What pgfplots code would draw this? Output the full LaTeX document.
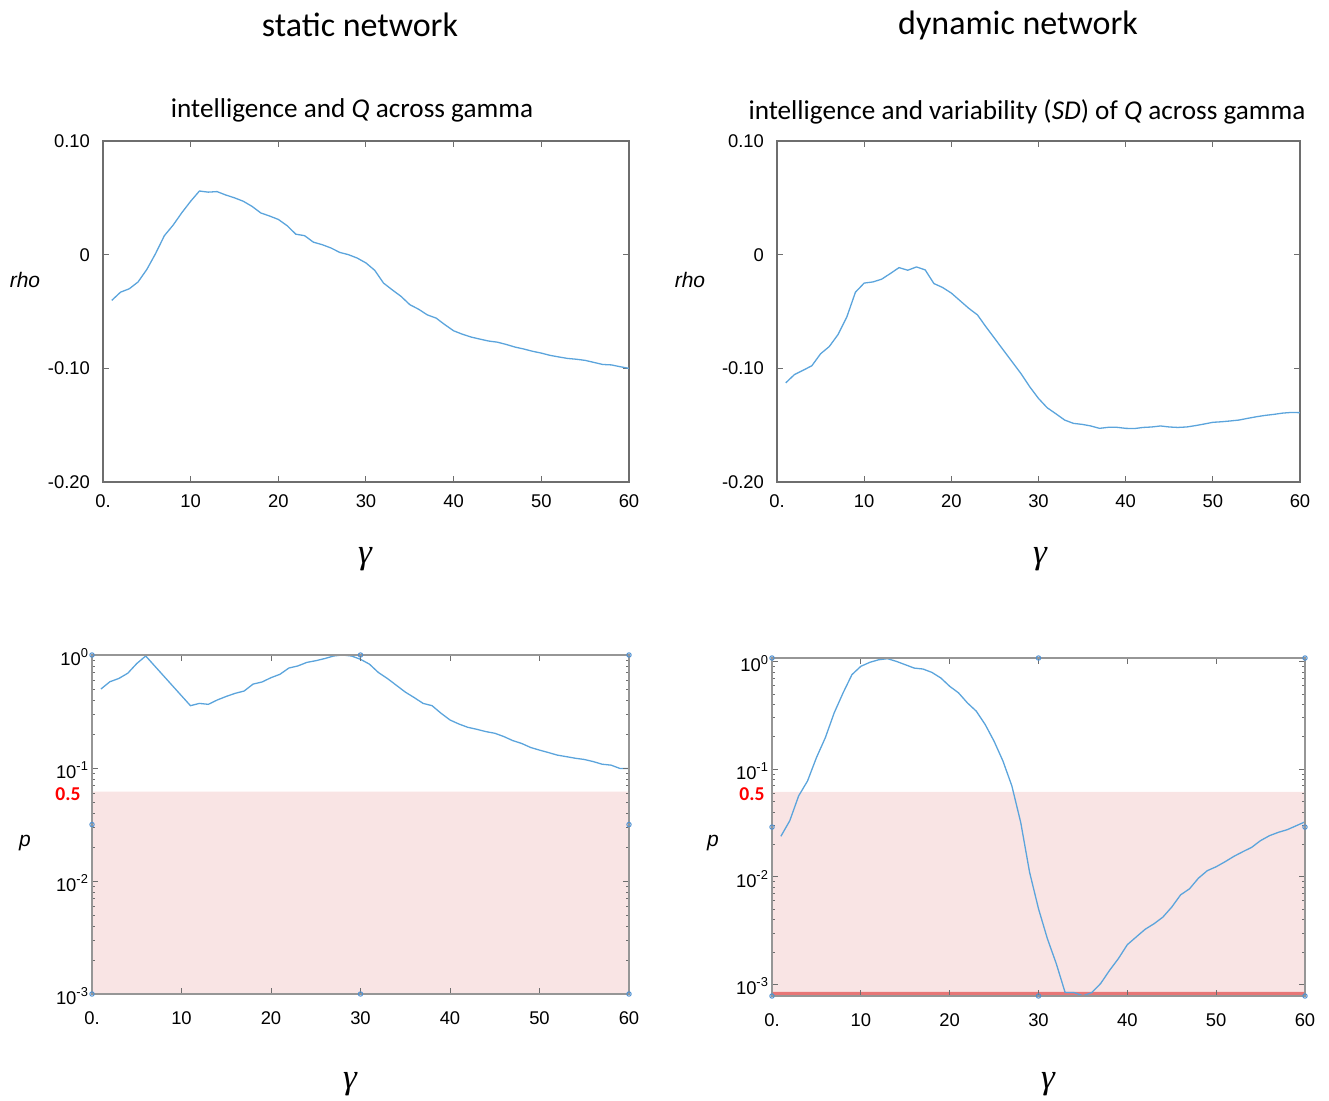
\documentclass[border=0pt]{standalone}
\usepackage{pgfplots}
\usepackage{pgfplotstable}
\pgfplotsset{compat=1.18}
\usepackage{fontspec}
\setmainfont{Carlito}
\newfontfamily\arial{Liberation Sans}
\newfontfamily\tms{Liberation Serif}
\definecolor{linec}{RGB}{91,164,220}
\definecolor{shade}{RGB}{249,228,228}
\definecolor{strip}{RGB}{232,118,118}
\definecolor{handle}{RGB}{80,145,210}
\definecolor{frameA}{RGB}{110,110,110}
\definecolor{frameB}{RGB}{150,150,150}
\pgfplotsset{
  myBase/.style={
    scale only axis, anchor=south west,
    xmin=0, xmax=60,
    xtick={0,10,20,30,40,50,60},
    xticklabels={0.,10,20,30,40,50,60},
    tick align=inside,
    major tick length=3pt,
    minor tick length=1.5pt,
    ticklabel style={font=\arial\fontsize{9.2}{11}\selectfont},
  },
  myTop/.style={myBase,
    ymin=-0.2, ymax=0.1,
    ytick={-0.2,-0.1,0,0.1},
    yticklabels={-0.20,-0.10,0,0.10},
    xticklabel style={yshift=-3pt},
    yticklabel style={xshift=-3pt},
    axis line style={frameA, line width=0.6pt},
    tick style={frameA, line width=0.5pt},
  },
  myBot/.style={myBase,
    axis on top, clip=false,
    xticklabel style={yshift=-5.5pt},
    yticklabel style={xshift=2pt, yshift=-1pt},
    ytick={0.001,0.01,0.1,1},
    yticklabels={10\textsuperscript{-3},10\textsuperscript{-2},10\textsuperscript{-1},10\textsuperscript{0}},
    minor ytick={0.002,0.003,0.004,0.005,0.006,0.007,0.008,0.009,0.02,0.03,0.04,0.05,0.06,0.07,0.08,0.09,0.2,0.3,0.4,0.5,0.6,0.7,0.8,0.9},
    axis line style={frameB, line width=0.9pt},
    tick style={frameA, line width=0.4pt},
  },
}
\begin{document}
\pgfplotstableread{
x y
1 -0.0402
2 -0.033
3 -0.030
4 -0.024
5 -0.013
6 0.001
7 0.0167
8 0.026
9 0.037
10 0.047
11 0.056
12 0.055
13 0.0555
14 0.0525
15 0.050
16 0.047
17 0.0425
18 0.0367
19 0.034
20 0.031
21 0.0255
22 0.018
23 0.0167
24 0.011
25 0.0088
26 0.0059
27 0.002
28 0.000
29 -0.003
30 -0.0073
31 -0.0138
32 -0.025
33 -0.031
34 -0.0367
35 -0.044
36 -0.048
37 -0.053
38 -0.0558
39 -0.0616
40 -0.067
41 -0.070
42 -0.0725
43 -0.0743
44 -0.076
45 -0.077
46 -0.079
47 -0.0813
48 -0.083
49 -0.085
50 -0.0866
51 -0.0886
52 -0.090
53 -0.0913
54 -0.092
55 -0.093
56 -0.0948
57 -0.0966
58 -0.097
59 -0.0986
60 -0.100
}\tlData
\pgfplotstableread{
x y
1 -0.1128
2 -0.1055
3 -0.1017
4 -0.0977
5 -0.0872
6 -0.0808
7 -0.0703
8 -0.055
9 -0.033
10 -0.025
11 -0.024
12 -0.0216
13 -0.0166
14 -0.0114
15 -0.0137
16 -0.0108
17 -0.0134
18 -0.0254
19 -0.0289
20 -0.0338
21 -0.0405
22 -0.0472
23 -0.053
24 -0.0638
25 -0.074
26 -0.0843
27 -0.0945
28 -0.1047
29 -0.1163
30 -0.1265
31 -0.1347
32 -0.140
33 -0.1455
34 -0.1484
35 -0.1493
36 -0.1507
37 -0.1528
38 -0.1519
39 -0.1519
40 -0.1528
41 -0.153
42 -0.152
43 -0.1516
44 -0.1507
45 -0.1516
46 -0.152
47 -0.1516
48 -0.1504
49 -0.149
50 -0.1475
51 -0.147
52 -0.1463
53 -0.1455
54 -0.144
55 -0.1426
56 -0.1414
57 -0.1405
58 -0.1394
59 -0.1388
60 -0.139
}\trData
\pgfplotstableread{
x y
1 0.50
2 0.58
3 0.62
4 0.69
5 0.84
6 0.98
11 0.356
12 0.373
13 0.366
14 0.40
15 0.43
16 0.458
17 0.48
18 0.553
19 0.577
20 0.63
21 0.675
22 0.767
23 0.80
24 0.86
25 0.89
26 0.93
27 0.98
28 1.0
29 0.98
30 0.916
31 0.83
32 0.70
33 0.62
34 0.54
35 0.47
36 0.42
37 0.373
38 0.356
39 0.305
40 0.266
41 0.245
42 0.229
43 0.22
44 0.21
45 0.203
46 0.19
47 0.175
48 0.165
49 0.152
50 0.144
51 0.137
52 0.130
53 0.126
54 0.122
55 0.119
56 0.114
57 0.108
58 0.106
59 0.099
60 0.099
}\blData
\pgfplotstableread{
x y
1 0.0238
2 0.0332
3 0.0565
4 0.0778
5 0.128
6 0.196
7 0.334
8 0.512
9 0.757
10 0.904
11 0.984
12 1.04
13 1.065
14 1.005
15 0.936
16 0.871
17 0.853
18 0.794
19 0.705
20 0.590
21 0.512
22 0.413
23 0.346
24 0.26
25 0.182
26 0.119
27 0.070
28 0.032
29 0.0110
30 0.00505
31 0.00266
32 0.00156
33 0.00084
34 0.00084
35 0.000784
36 0.00084
37 0.00102
38 0.00135
39 0.00174
40 0.00234
41 0.00276
42 0.00325
43 0.00366
44 0.00422
45 0.00523
46 0.00680
47 0.00773
48 0.0097
49 0.0114
50 0.0124
51 0.0138
52 0.0155
53 0.0171
54 0.0188
55 0.0217
56 0.0241
57 0.0259
58 0.0274
59 0.0298
60 0.0324
}\brData
\begin{tikzpicture}
\path[use as bounding box] (0,0) rectangle (664.5pt,-550.5pt);
\node[font=\fontsize{17}{20}\selectfont] at (180pt,-12.5pt) {static network};
\node[font=\fontsize{17}{20}\selectfont] at (509pt,-12.5pt) {dynamic network};
\node[font=\fontsize{13.6}{16}\selectfont] at (176pt,-55pt) {intelligence and \textit{Q} across gamma};
\node[font=\fontsize{13.6}{16}\selectfont] at (513.5pt,-56pt) {intelligence and variability (\textit{SD}) of \textit{Q} across gamma};
\begin{axis}[myTop, at={(51.5pt,-241pt)}, width=263pt, height=170.5pt]
\addplot[linec, line width=0.65pt] table[x=x,y=y] {\tlData};
\end{axis}
\begin{axis}[myTop, at={(388.5pt,-241pt)}, width=261.5pt, height=170.5pt]
\addplot[linec, line width=0.65pt] table[x=x,y=y] {\trData};
\end{axis}
\begin{axis}[ymode=log, myBot, at={(46pt,-497pt)}, width=268.5pt, height=169.5pt, ymin=0.001, ymax=1]
\addplot[fill=shade, draw=none] coordinates {(0,0.001) (60,0.001) (60,0.0618) (0,0.0618) (0,0.001)};
\addplot[linec, line width=0.65pt] table[x=x,y=y] {\blData};
\addplot[only marks, mark=o, mark size=1.1pt, handle, mark options={line width=0.5pt}] coordinates {(0,1) (30,1) (60,1) (0,0.0316) (60,0.0316) (0,0.001) (30,0.001) (60,0.001)};
\end{axis}
\begin{axis}[ymode=log, myBot, at={(386pt,-498pt)}, width=266.5pt, height=169pt, ymin=0.00078, ymax=1.08]
\addplot[fill=shade, draw=none] coordinates {(0,0.00078) (60,0.00078) (60,0.0615) (0,0.0615) (0,0.00078)};
\addplot[fill=strip, draw=none] coordinates {(0,0.00078) (60,0.00078) (60,0.00085) (0,0.00085) (0,0.00078)};
\addplot[linec, line width=0.65pt] table[x=x,y=y] {\brData};
\addplot[only marks, mark=o, mark size=1.1pt, handle, mark options={line width=0.5pt}] coordinates {(0,1.08) (30,1.08) (60,1.08) (0,0.029) (60,0.029) (0,0.00078) (30,0.00078) (60,0.00078)};
\end{axis}
\node[font=\arial\itshape\fontsize{10.5}{12}\selectfont] at (12.5pt,-140pt) {rho};
\node[font=\arial\itshape\fontsize{10.5}{12}\selectfont] at (345pt,-140pt) {rho};
\node[font=\arial\itshape\fontsize{10.5}{12}\selectfont] at (12.5pt,-421.5pt) {p};
\node[font=\arial\itshape\fontsize{10.5}{12}\selectfont] at (356.5pt,-421.5pt) {p};
\node[font=\bfseries\fontsize{9.8}{12}\selectfont, text=red] at (34pt,-397pt) {0.5};
\node[font=\bfseries\fontsize{9.8}{12}\selectfont, text=red] at (376pt,-397pt) {0.5};
\node[font=\tms\itshape\fontsize{17.5}{19}\selectfont] at (182.5pt,-279.5pt) {γ};
\node[font=\tms\itshape\fontsize{17.5}{19}\selectfont] at (520pt,-279.5pt) {γ};
\node[font=\tms\itshape\fontsize{17.5}{19}\selectfont] at (175pt,-542pt) {γ};
\node[font=\tms\itshape\fontsize{17.5}{19}\selectfont] at (524pt,-542pt) {γ};
\end{tikzpicture}
\end{document}
